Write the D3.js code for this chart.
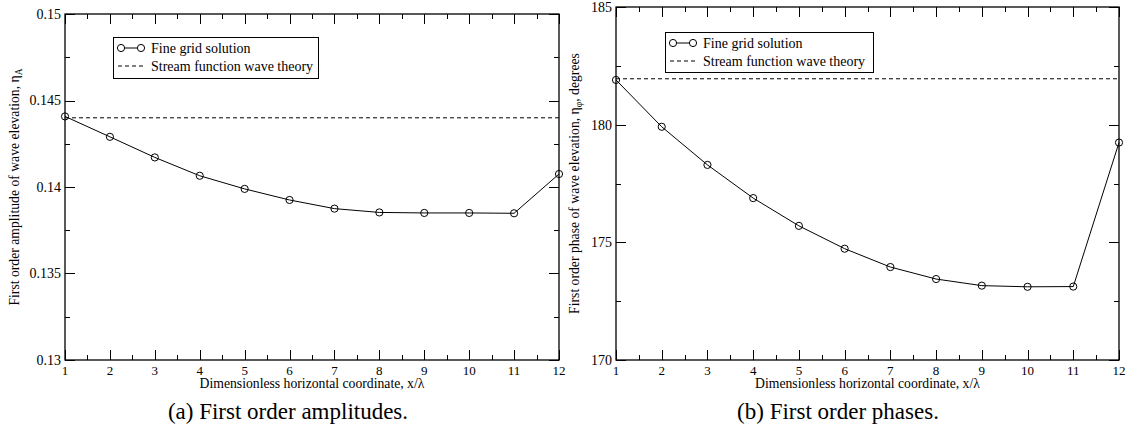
<!DOCTYPE html>
<html>
<head>
<meta charset="utf-8">
<script src="https://cdn.jsdelivr.net/npm/d3@7"></script>
<style>
  html, body { margin: 0; padding: 0; background: #fff; }
  svg text { font-family: 'Liberation Serif', 'Times New Roman', Times, 'DejaVu Serif', serif; }
</style>
</head>
<body>
<svg id="fig" width="1129" height="441" font-family="Liberation Serif, Times New Roman, DejaVu Serif, serif"></svg>
<script>
// Station positions along the tank, in wavelengths
const xPositions = [1, 2, 3, 4, 5, 6, 7, 8, 9, 10, 11, 12];

// First order amplitude of the free-surface elevation (fine grid)
const amplitudeFine = [0.14408, 0.1429, 0.14171, 0.14065, 0.13989, 0.13925, 0.13875, 0.13853, 0.1385, 0.1385, 0.13848, 0.14075];
const amplitudeTheory = 0.1440;

// First order phase of the free-surface elevation, degrees (fine grid)
const phaseFine = [181.9, 179.91, 178.29, 176.88, 175.7, 174.73, 173.95, 173.44, 173.16, 173.11, 173.12, 179.24];
const phaseTheory = 181.95;

const xTicks = [1, 2, 3, 4, 5, 6, 7, 8, 9, 10, 11, 12];
const amplitudeTicks = [0.13, 0.135, 0.14, 0.145, 0.15];
const phaseTicks = [170, 175, 180, 185];

const legendLabels = ["Fine grid solution", "Stream function wave theory"];

const SERIF = "'Liberation Serif', 'Times New Roman', Times, 'DejaVu Serif', serif";
const svg = d3.select("#fig");

function panel(cfg) {
  const g = svg.append("g").style("font-family", SERIF);
  const { left, right, top, bottom } = cfg;
  const x = d3.scaleLinear().domain([1, 12]).range([left, right]);
  const y = d3.scaleLinear().domain(cfg.yDomain).range([bottom, top]);

  // minor ticks (half-steps)
  const xMinor = d3.range(1.5, 12, 1);
  const yMinor = cfg.yMinor;

  const tickG = g.append("g").attr("stroke", "#000").attr("stroke-width", 1);
  // bottom and top ticks, pointing into the frame
  xTicks.forEach(v => {
    const px = Math.round(x(v)) + 0.5;
    tickG.append("line").attr("x1", px).attr("x2", px).attr("y1", bottom).attr("y2", bottom - 10);
    tickG.append("line").attr("x1", px).attr("x2", px).attr("y1", top).attr("y2", top + 10);
  });
  xMinor.forEach(v => {
    const px = Math.round(x(v)) + 0.5;
    tickG.append("line").attr("x1", px).attr("x2", px).attr("y1", bottom).attr("y2", bottom - 5);
    tickG.append("line").attr("x1", px).attr("x2", px).attr("y1", top).attr("y2", top + 5);
  });
  cfg.yTicks.forEach(v => {
    const py = Math.round(y(v)) + 0.5;
    tickG.append("line").attr("x1", left).attr("x2", left + 10).attr("y1", py).attr("y2", py);
    tickG.append("line").attr("x1", right).attr("x2", right - 10).attr("y1", py).attr("y2", py);
  });
  yMinor.forEach(v => {
    const py = Math.round(y(v)) + 0.5;
    tickG.append("line").attr("x1", left).attr("x2", left + 5).attr("y1", py).attr("y2", py);
    tickG.append("line").attr("x1", right).attr("x2", right - 5).attr("y1", py).attr("y2", py);
  });

  // frame
  g.append("rect")
    .attr("x", left).attr("y", top)
    .attr("width", right - left).attr("height", bottom - top)
    .attr("fill", "none").attr("stroke", "#000").attr("stroke-width", 1.3);

  // tick labels
  g.append("g").selectAll("text").data(xTicks).join("text")
    .attr("x", d => x(d)).attr("y", bottom + 15)
    .attr("text-anchor", "middle").attr("font-size", 13)
    .text(d => d);
  g.append("g").selectAll("text").data(cfg.yTicks).join("text")
    .attr("x", left - 4).attr("y", d => y(d)).attr("dy", "0.35em")
    .attr("text-anchor", "end").attr("font-size", 14)
    .text(d => cfg.yFormat(d));

  // axis titles
  g.append("text")
    .attr("x", (left + right) / 2).attr("y", bottom + 28)
    .attr("text-anchor", "middle").attr("font-size", 13.7)
    .text("Dimensionless horizontal coordinate, x/λ");

  const yt = g.append("text")
    .attr("transform", `translate(${cfg.yTitleX},${(top + bottom) / 2}) rotate(-90)`)
    .attr("text-anchor", "middle").attr("font-size", 13.7);
  yt.append("tspan").text(cfg.yTitle[0]);
  yt.append("tspan").attr("font-size", 9.5).attr("dy", 3).text(cfg.yTitle[1]);
  if (cfg.yTitle[2]) yt.append("tspan").attr("dy", -3).text(cfg.yTitle[2]);

  // theory reference line
  g.append("line")
    .attr("x1", left).attr("x2", right)
    .attr("y1", y(cfg.theory)).attr("y2", y(cfg.theory))
    .attr("stroke", "#000").attr("stroke-width", 1).attr("stroke-dasharray", "4,3");

  // fine grid solution
  const pts = xPositions.map((v, i) => [v, cfg.values[i]]);
  g.append("path")
    .attr("d", d3.line().x(d => x(d[0])).y(d => y(d[1]))(pts))
    .attr("fill", "none").attr("stroke", "#000").attr("stroke-width", 1);
  g.append("g").selectAll("circle").data(pts).join("circle")
    .attr("cx", d => x(d[0])).attr("cy", d => y(d[1])).attr("r", 3.6)
    .attr("fill", "none").attr("stroke", "#000").attr("stroke-width", 1);

  // legend
  const lg = cfg.legend;
  g.append("rect")
    .attr("x", lg.x + 0.5).attr("y", lg.y + 0.5).attr("width", lg.w).attr("height", lg.h)
    .attr("fill", "#fff").attr("stroke", "#000").attr("stroke-width", 1);
  const r1 = lg.y + 11, r2 = lg.y + 29;
  const sx1 = lg.x + 8, sx2 = lg.x + 28;
  g.append("line").attr("x1", sx1).attr("x2", sx2).attr("y1", r1).attr("y2", r1)
    .attr("stroke", "#000").attr("stroke-width", 1);
  [sx1, sx2].forEach(cx => g.append("circle").attr("cx", cx).attr("cy", r1).attr("r", 3.6)
    .attr("fill", "#fff").attr("stroke", "#000").attr("stroke-width", 1));
  g.append("line").attr("x1", sx1 - 3).attr("x2", sx2 + 3).attr("y1", r2).attr("y2", r2)
    .attr("stroke", "#000").attr("stroke-width", 1).attr("stroke-dasharray", "4,3");
  g.selectAll("text.leg").data(legendLabels).join("text").attr("class", "leg")
    .attr("x", lg.x + 38).attr("y", (d, i) => i ? r2 : r1).attr("dy", "0.35em")
    .attr("font-size", 14).text(d => d);

  // caption
  svg.append("text")
    .style("font-family", SERIF)
    .attr("x", cfg.captionX).attr("y", 419)
    .attr("text-anchor", "middle").attr("font-size", 23)
    .text(cfg.caption);
}

panel({
  left: 65, right: 559, top: 14, bottom: 360,
  yDomain: [0.13, 0.15],
  yTicks: amplitudeTicks,
  yMinor: [0.1325, 0.1375, 0.1425, 0.1475],
  yFormat: d3.format(""),
  yTitleX: 19,
  yTitle: ["First order amplitude of wave elevation, η", "A"],
  values: amplitudeFine,
  theory: amplitudeTheory,
  legend: { x: 113, y: 37, w: 205, h: 41 },
  caption: "(a) First order amplitudes.",
  captionX: 288
});

panel({
  left: 616, right: 1119, top: 7, bottom: 360,
  yDomain: [170, 185],
  yTicks: phaseTicks,
  yMinor: [172.5, 177.5, 182.5],
  yFormat: d3.format(""),
  yTitleX: 579,
  yTitle: ["First order phase of wave elevation, η", "φ", ", degrees"],
  values: phaseFine,
  theory: phaseTheory,
  legend: { x: 665, y: 32, w: 208, h: 40 },
  caption: "(b) First order phases.",
  captionX: 838
});
</script>
</body>
</html>
